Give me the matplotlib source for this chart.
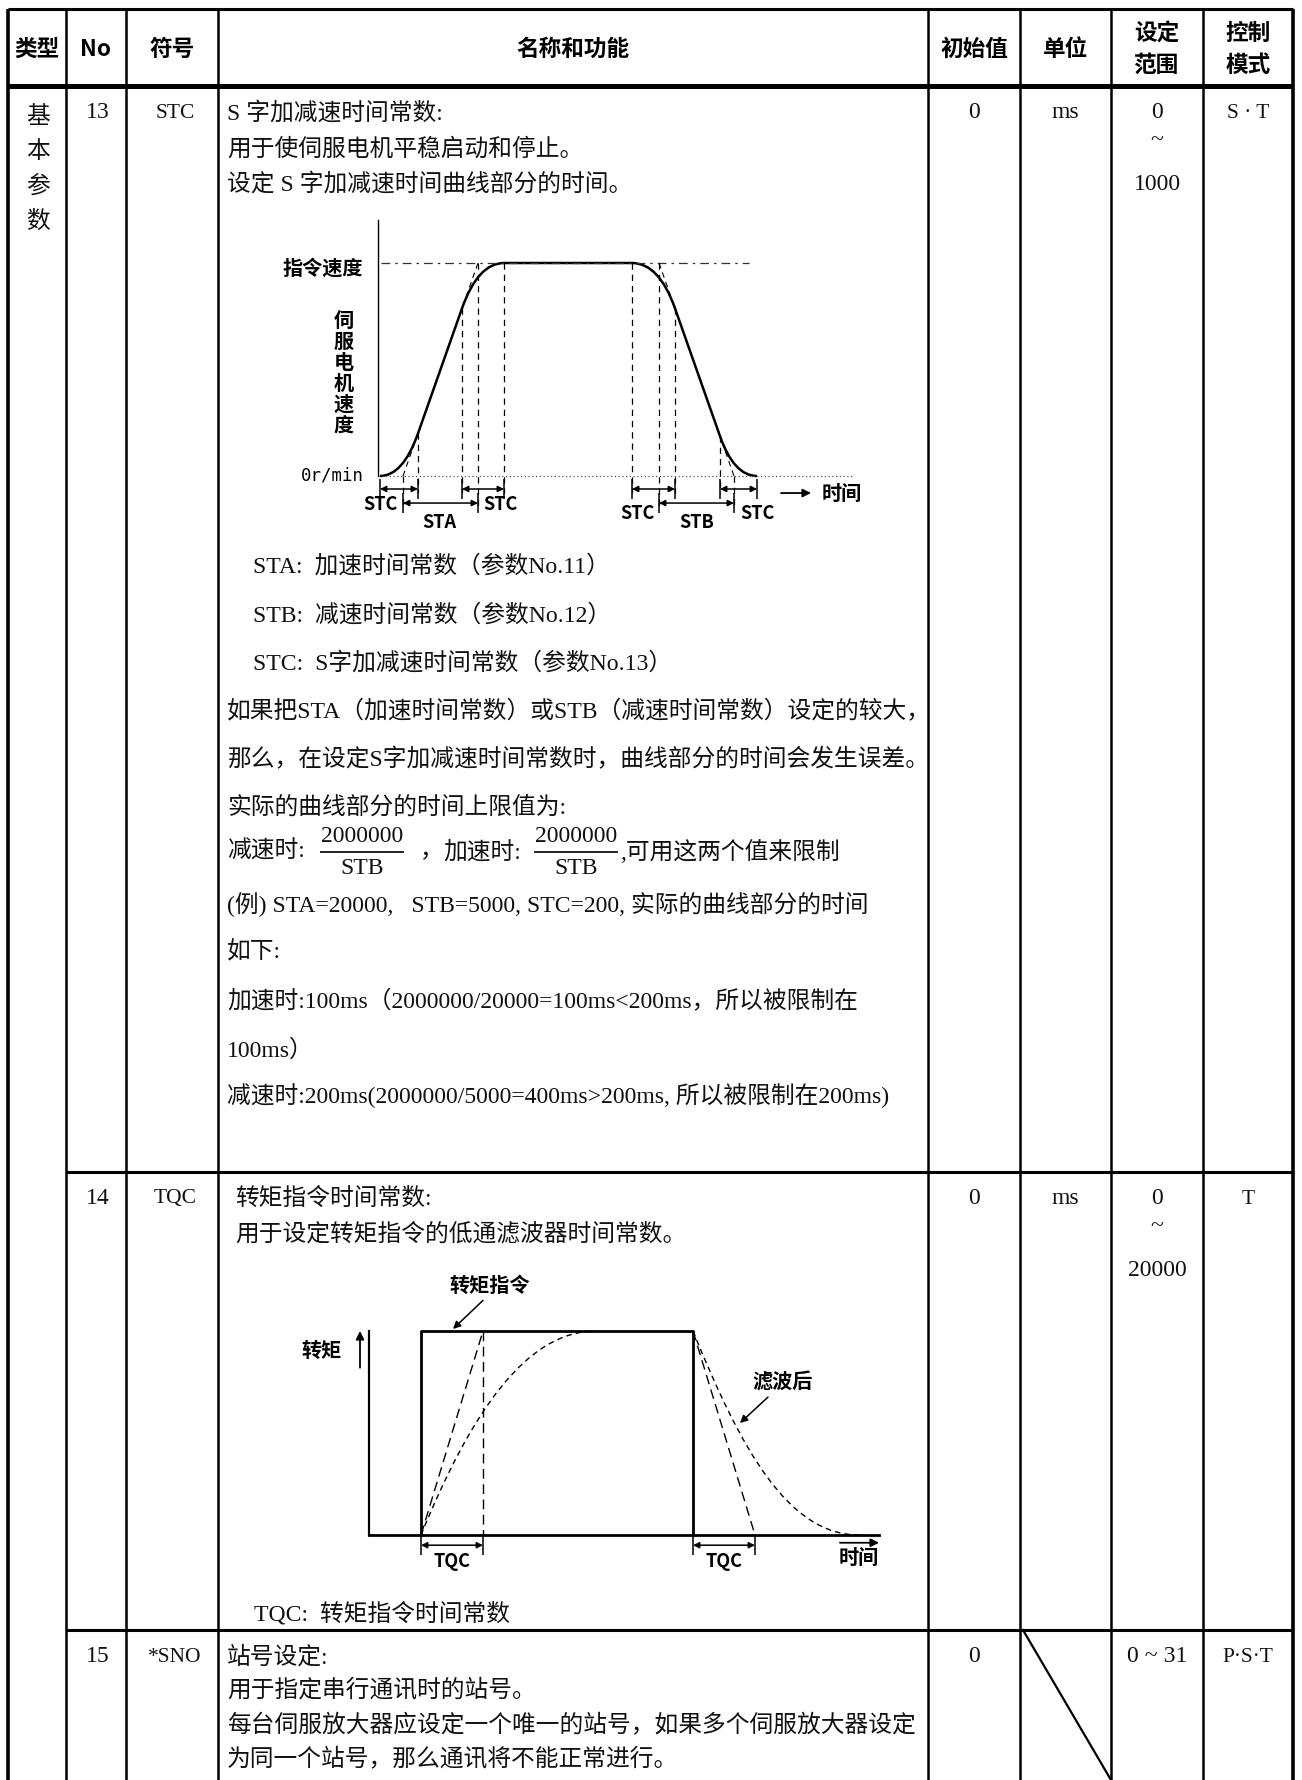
import matplotlib
matplotlib.use('Agg')
import matplotlib.pyplot as plt
from matplotlib.path import Path
from matplotlib.patches import PathPatch

W, H = 1302, 1780

# =====================================================
# Table content
# =====================================================

HEADERS = ['类型', 'No', '符号', '名称和功能', '初始值', '单位', '设定\n范围', '控制\n模式']
CATEGORY = '基本参数'
PARAM_NO = ['13', '14', '15']
SYMBOLS = ['STC', 'TQC', '*SNO']
INIT_VALUES = ['0', '0', '0']
UNITS = ['ms', 'ms', None]
RANGES = [['0', '~', '1000'], ['0', '~', '20000'], ['0 ~ 31']]
MODES = ['S · T', 'T', 'P·S·T']

STC_HEAD = ['S 字加减速时间常数:', '用于使伺服电机平稳启动和停止。', '设定 S 字加减速时间曲线部分的时间。']
STC_LEGEND = ['STA:  加速时间常数（参数No.11）', 'STB:  减速时间常数（参数No.12）',
              'STC:  S字加减速时间常数（参数No.13）']
STC_NOTES_A = ['如果把STA（加速时间常数）或STB（减速时间常数）设定的较大，',
               '那么，在设定S字加减速时间常数时，曲线部分的时间会发生误差。',
               '实际的曲线部分的时间上限值为:']
FRACTIONS = [('减速时:', '2000000', 'STB', '，'), ('加速时:', '2000000', 'STB', ',可用这两个值来限制')]
STC_NOTES_B = ['(例) STA=20000,   STB=5000, STC=200, 实际的曲线部分的时间',
               '如下:',
               '加速时:100ms（2000000/20000=100ms<200ms，所以被限制在',
               '100ms）',
               '减速时:200ms(2000000/5000=400ms>200ms, 所以被限制在200ms)']
TQC_HEAD = ['转矩指令时间常数:', '用于设定转矩指令的低通滤波器时间常数。']
TQC_LEGEND = 'TQC:  转矩指令时间常数'
SNO_LINES = ['站号设定:', '用于指定串行通讯时的站号。',
             '每台伺服放大器应设定一个唯一的站号，如果多个伺服放大器设定',
             '为同一个站号，那么通讯将不能正常进行。']

# =====================================================
# S-curve diagram data
# t: drawing time units, v: speed / command speed
# =====================================================

S_T = [0, 23, 38, 82, 98, 124, 252, 279, 295, 340, 354, 377]
S_V = [0, 0, 0.2, 0.787, 1, 1, 1, 1, 0.787, 0.187, 0, 0]
S_CODES = [Path.MOVETO, Path.CURVE3, Path.CURVE3, Path.LINETO, Path.CURVE3, Path.CURVE3,
           Path.LINETO, Path.CURVE3, Path.CURVE3, Path.LINETO, Path.CURVE3, Path.CURVE3]
RAMP_T = [[23, 98], [279, 354]]
RAMP_V = [[0, 1], [1, 0]]
STC_SPANS = [(0, 38), (82, 124), (252, 295), (340, 377)]
STC_LABELS = [(0, -0.136), (120, -0.136), (257, -0.174), (377, -0.174)]
RAMP_SPANS = [(23, 98), (279, 354)]
RAMP_LABELS = [('STA', 59), ('STB', 317)]

# =====================================================
# Torque filter diagram data
# =====================================================

TQ_CMD_T = [0, 0, 272, 272]
TQ_CMD_V = [0, 1, 1, 0]
TQ_TAU_T = [[0, 62], [272, 334]]
TQ_TAU_V = [[0, 1], [1, 0]]
TQ_RISE = [(0, 0), (50, 0.6), (105, 1.0), (175, 1.0)]
TQ_FALL = [(272, 1), (320, 0.42), (367, 0), (438, 0)]
TQC_SPANS = [(0, 62), (272, 334)]

# =====================================================
# Layout / style
# =====================================================

COL_X = [8, 66, 126, 218, 928, 1020, 1111, 1203, 1293]
TOP_Y, HEAD_Y = 9, 86
ROW_Y = [86, 1172, 1630, 1780]
ROW_TEXT_Y = [113, 1199, 1657]
RANGE_DY = [0, 28, 72]

SERIF = ['Liberation Serif', 'Noto Sans CJK SC']
GOTHIC = ['Noto Sans CJK SC']
BODY = 17.1

fig = plt.figure(figsize=(W / 100, H / 100), dpi=100)
fig.patch.set_facecolor('white')
ax = fig.add_axes([0, 0, 1, 1])
ax.set_xlim(0, W)
ax.set_ylim(H, 0)
ax.axis('off')


def body(x, y, s, size=BODY, ha='left'):
    ax.text(x, y, s, family=SERIF, fontsize=size, ha=ha, va='center', color='#111')


def diagram_axes(box, origin, scale):
    l, t, r, b = box
    a = fig.add_axes([l / W, 1 - b / H, (r - l) / W, (b - t) / H])
    a.set_xlim((l - origin[0]) / scale[0], (r - origin[0]) / scale[0])
    a.set_ylim((origin[1] - b) / scale[1], (origin[1] - t) / scale[1])
    a.axis('off')
    return a


def dim_arrow(a, t0, t1, v, tick):
    a.annotate('', xy=(t1, v), xytext=(t0, v),
               arrowprops=dict(arrowstyle='<|-|>', color='k', lw=1.1,
                               mutation_scale=9, shrinkA=0, shrinkB=0))
    a.vlines([t0, t1], v - tick, v + tick, color='k', lw=1.1)


# =====================================================
# Table grid
# =====================================================

ax.vlines(COL_X[1:-1], TOP_Y, H, color='k', lw=1.8)
ax.vlines([COL_X[0], COL_X[-1]], TOP_Y, H, color='k', lw=2.6)
ax.hlines(TOP_Y, COL_X[0], COL_X[-1], color='k', lw=2.2)
ax.hlines(HEAD_Y, COL_X[0], COL_X[-1], color='k', lw=3.6)
ax.hlines(ROW_Y[1:-1], COL_X[1], COL_X[-1], color='k', lw=2.2)
ax.plot([COL_X[5] + 3, COL_X[6]], [ROW_Y[2], ROW_Y[3]], color='k', lw=1.6)

# header
for i, h in enumerate(HEADERS):
    xc = (COL_X[i] + COL_X[i + 1]) / 2
    lines = h.split('\n')
    ys = [49] if len(lines) == 1 else [33, 65]
    for s, y in zip(lines, ys):
        ax.text(xc, y, s, family=GOTHIC, fontsize=16.3, fontweight='bold',
                ha='center', va='center')

# category column
for k, ch in enumerate(CATEGORY):
    body(38, 117 + 35 * k, ch, ha='center')

# per-row fixed columns
for r in range(3):
    y = ROW_TEXT_Y[r]
    body(98, y, PARAM_NO[r], ha='center')
    body(175, y, SYMBOLS[r], size=15.5, ha='center')
    body(974, y, INIT_VALUES[r], ha='center')
    if UNITS[r]:
        body(1065, y, UNITS[r], ha='center')
    for s, dy in zip(RANGES[r], RANGE_DY):
        body(1157, y + dy, s, ha='center')
    body(1248, y, MODES[r], size=15.5, ha='center')

# =====================================================
# Row 13 text
# =====================================================

for s, y in zip(STC_HEAD, [113, 149, 184]):
    body(227, y, s)
for s, y in zip(STC_LEGEND, [566, 615, 663]):
    body(253, y, s)
for s, y in zip(STC_NOTES_A, [712, 760, 808]):
    body(227, y, s)

frac_x = [(227, 362, 420), (443, 576, 620)]
for (lead, num, den, tail), (x0, xc, xt) in zip(FRACTIONS, frac_x):
    body(x0, 852, lead)
    body(xc, 837, num, ha='center')
    body(xc, 868, den, ha='center')
    ax.hlines(852, xc - 42, xc + 42, color='k', lw=1.2)
    body(xt, 852, tail)

for s, y in zip(STC_NOTES_B, [905, 952, 1002, 1050, 1096]):
    body(227, y, s)

# =====================================================
# Row 14 / 15 text
# =====================================================

for s, y in zip(TQC_HEAD, [1199, 1234]):
    body(235, y, s)
body(254, 1614, TQC_LEGEND)
for s, y in zip(SNO_LINES, [1657, 1690, 1726, 1760]):
    body(227, y, s)

# =====================================================
# S-curve diagram
# =====================================================

d1 = diagram_axes((270, 205, 880, 545), (380, 476), (1, 213))

d1.plot([-2, -2], [0, 1.2], color='k', lw=1.0)
d1.plot([1, 369], [1, 1], color='#333', lw=0.9, ls=(0, (7, 4, 2, 4)))
d1.plot([-2, 472], [0, 0], color='#555', lw=0.9, ls=(0, (1, 2)))

for tt, vv in zip(RAMP_T, RAMP_V):
    d1.plot(tt, vv, color='k', lw=0.8, ls=(0, (5, 4)))

ramp_ends = {t for span in RAMP_SPANS for t in span}
for t, v in zip(S_T[1:-1], S_V[1:-1]):
    bottom = -0.144 if t in ramp_ends else -0.08
    d1.plot([t, t], [v, bottom], color='k', lw=0.9, ls=(0, (5, 4)))

d1.add_patch(PathPatch(Path(list(zip(S_T, S_V)), S_CODES), fill=False, lw=1.8, ec='k'))

for t0, t1 in STC_SPANS:
    dim_arrow(d1, t0, t1, -0.061, 0.045)
for t0, t1 in RAMP_SPANS:
    dim_arrow(d1, t0, t1, -0.127, 0.045)

lab = dict(family=GOTHIC, fontsize=13, fontweight='bold', ha='center', va='center')
for t, v in STC_LABELS:
    d1.text(t, v, 'STC', **lab)
for name, t in RAMP_LABELS:
    d1.text(t, -0.216, name, **lab)

d1.annotate('', xy=(431, -0.08), xytext=(401, -0.08),
            arrowprops=dict(arrowstyle='-|>', color='k', lw=1.3, mutation_scale=12,
                            shrinkA=0, shrinkB=0))
d1.text(462, -0.08, '时间', family=GOTHIC, fontsize=14.5, fontweight='bold',
        ha='center', va='center')
d1.text(-57, 0.977, '指令速度', family=GOTHIC, fontsize=14.5, fontweight='bold',
        ha='center', va='center')
for k, ch in enumerate('伺服电机速度'):
    d1.text(-36, 0.73 - 0.098 * k, ch, family=GOTHIC, fontsize=14.5, fontweight='bold',
            ha='center', va='center')
d1.text(-16, 0.0, '0r/min', family=['DejaVu Sans Mono'], fontsize=12.5,
        ha='right', va='center')

# =====================================================
# Torque command filter diagram
# =====================================================

d2 = diagram_axes((250, 1265, 905, 1595), (421, 1535), (1, 204))

d2.plot([-52, -52], [0, 1.0], color='k', lw=1.6)
d2.plot([-52, 458], [0, 0], color='k', lw=2.0)
d2.annotate('', xy=(-61, 1.0), xytext=(-61, 0.82),
            arrowprops=dict(arrowstyle='-|>', color='k', lw=1.3, mutation_scale=12,
                            shrinkA=0, shrinkB=0))
d2.annotate('', xy=(458, -0.038), xytext=(419, -0.038),
            arrowprops=dict(arrowstyle='-|>', color='k', lw=1.3, mutation_scale=12,
                            shrinkA=0, shrinkB=0))

d2.plot(TQ_CMD_T, TQ_CMD_V, color='k', lw=2.0)
for tt, vv in zip(TQ_TAU_T, TQ_TAU_V):
    d2.plot(tt, vv, color='k', lw=1.0, ls=(0, (7, 4)))
d2.plot([62, 62], [1, 0], color='k', lw=1.0, ls=(0, (7, 4)))

curve = [Path.MOVETO, Path.CURVE4, Path.CURVE4, Path.CURVE4]
for pts in (TQ_RISE, TQ_FALL):
    d2.add_patch(PathPatch(Path(pts, curve), fill=False, lw=1.0, ec='k', ls=(0, (4, 3))))

for t0, t1 in TQC_SPANS:
    dim_arrow(d2, t0, t1, -0.05, 0.05)
    d2.text((t0 + t1) / 2, -0.13, 'TQC', **lab)

d2.text(438, -0.11, '时间', family=GOTHIC, fontsize=14.5, fontweight='bold',
        ha='center', va='center')
d2.text(-99, 0.907, '转矩', family=GOTHIC, fontsize=14.5, fontweight='bold',
        ha='center', va='center')
d2.text(69, 1.225, '转矩指令', family=GOTHIC, fontsize=14.5, fontweight='bold',
        ha='center', va='center')
d2.annotate('', xy=(32, 1.01), xytext=(62, 1.15),
            arrowprops=dict(arrowstyle='-|>', color='k', lw=1.1, mutation_scale=11,
                            shrinkA=0, shrinkB=0))
d2.text(362, 0.75, '滤波后', family=GOTHIC, fontsize=14.5, fontweight='bold',
        ha='center', va='center')
d2.annotate('', xy=(319, 0.549), xytext=(347, 0.676),
            arrowprops=dict(arrowstyle='-|>', color='k', lw=1.1, mutation_scale=11,
                            shrinkA=0, shrinkB=0))

fig.savefig('out.png', dpi=100, facecolor='white')
